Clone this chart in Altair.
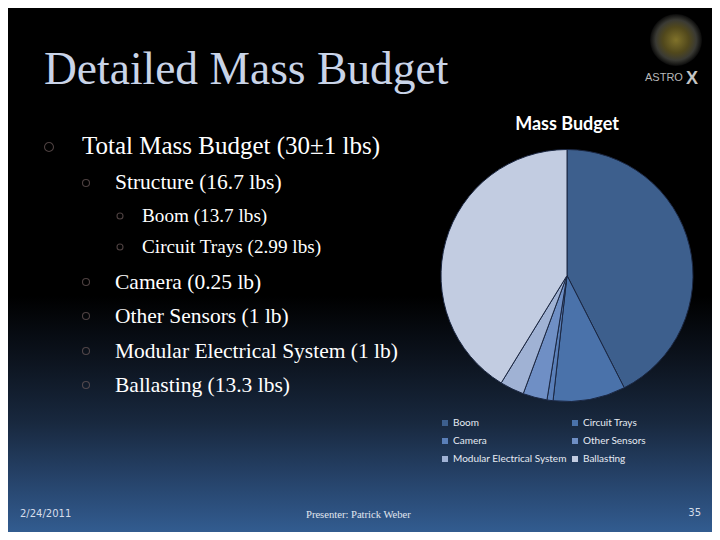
import altair as alt
import pandas as pd

# ---- data ----
parts = ["Boom", "Circuit Trays", "Camera", "Other Sensors", "Modular Electrical System", "Ballasting"]
masses = [13.7, 2.99, 0.25, 1.0, 1.0, 13.3]
units = ["lbs", "lbs", "lb", "lb", "lb", "lbs"]
colors = ["#3D5F8D", "#4A72AA", "#5A7FB8", "#6F8FC5", "#A0B2D4", "#C2CCE1"]

total_budget = "30±1"
structure_mass = 16.7

# ---- layout ----
OX, OY = 8, 8
W, H = 704, 524


def fmt(v):
    return f"{v:g}"


def txt(s, x, y, size, color="#FFFFFF", font="Liberation Serif", weight="normal",
        align="left", baseline="alphabetic"):
    return alt.Chart(alt.Data(values=[{}])).mark_text(
        text=s, fontSize=size, color=color, font=font, fontWeight=weight,
        align=align, baseline=baseline
    ).encode(x=alt.value(x - OX), y=alt.value(y - OY))


def bullet(x, y, d):
    return alt.Chart(alt.Data(values=[{}])).mark_point(
        shape="circle", filled=False, stroke="#6E5C5C", strokeWidth=1.1, size=d * d
    ).encode(x=alt.value(x - OX), y=alt.value(y - OY))


bg = alt.Chart(alt.Data(values=[{}])).mark_rect(
    color=alt.LinearGradient(
        gradient="linear", x1=0, x2=0, y1=0, y2=1,
        stops=[
            alt.GradientStop(color="#000000", offset=0),
            alt.GradientStop(color="#000000", offset=0.55),
            alt.GradientStop(color="#0C131E", offset=0.67),
            alt.GradientStop(color="#18283E", offset=0.79),
            alt.GradientStop(color="#26436A", offset=0.9),
            alt.GradientStop(color="#325C90", offset=1),
        ],
    )
).encode(x=alt.value(0), x2=alt.value(W), y=alt.value(0), y2=alt.value(H))

df = pd.DataFrame({"part": parts, "mass": masses, "idx": list(range(len(parts)))})

pie = alt.Chart(df).mark_arc(
    outerRadius=126, stroke="#1B2742", strokeWidth=1
).encode(
    theta=alt.Theta("mass:Q", stack=True),
    order=alt.Order("idx:Q", sort="ascending"),
    color=alt.Color(
        "part:N",
        scale=alt.Scale(domain=parts, range=colors),
        sort=parts,
        legend=alt.Legend(
            title=None, orient="none", legendX=440 - OX, legendY=418 - OY,
            direction="horizontal", columns=2,
            symbolType="square", symbolSize=36, symbolStrokeWidth=0,
            labelColor="#E6EBF3", labelFont="Lato", labelFontSize=10,
            rowPadding=8, columnPadding=3, labelOffset=3,
        ),
    ),
    x=alt.value(567 - OX),
    y=alt.value(275.5 - OY),
)

layers = [bg, pie]

# logo
logo = alt.Chart(alt.Data(values=[{}])).mark_point(
    shape="circle", filled=True, size=2700, opacity=1,
    color=alt.RadialGradient(
        gradient="radial",
        stops=[
            alt.GradientStop(color="#80722A", offset=0),
            alt.GradientStop(color="#51481C", offset=0.5),
            alt.GradientStop(color="#3A3A34", offset=0.78),
            alt.GradientStop(color="#0A0A0A", offset=1),
        ],
    ),
).encode(x=alt.value(676 - OX), y=alt.value(40 - OY))
layers.append(logo)
layers.append(txt("ASTRO", 645, 81, 11, color="#B9B9B9", font="Liberation Sans"))
layers.append(txt("X", 686, 84, 18, color="#C4C4C4", font="Liberation Sans", weight="bold"))

# slide title
layers.append(txt("Detailed Mass Budget", 44, 84, 45.5, color="#C9D4E8"))

# bullets
L1, L2, L3 = 25, 21.5, 19.2
layers.append(bullet(49, 147, 9))
layers.append(txt(f"Total Mass Budget ({total_budget} lbs)", 82, 154, L1))
layers.append(bullet(86, 183, 7))
layers.append(txt(f"Structure ({fmt(structure_mass)} lbs)", 115, 189, L2))
layers.append(bullet(120, 216, 6))
layers.append(txt(f"{parts[0]} ({fmt(masses[0])} {units[0]})", 142, 222, L3))
layers.append(bullet(120, 247, 6))
layers.append(txt(f"{parts[1]} ({fmt(masses[1])} {units[1]})", 142, 253, L3))
for i, yy in zip(range(2, 6), [282, 316, 351, 385]):
    layers.append(bullet(86, yy, 7))
    layers.append(txt(f"{parts[i]} ({fmt(masses[i])} {units[i]})", 115, yy + 7, L2))

# chart title
layers.append(txt("Mass Budget", 567, 130, 18, color="#FFFFFF", font="Lato", weight="bold", align="center"))

# footer
layers.append(txt("2/24/2011", 20, 517, 10, color="#D6DDEA", font="DejaVu Sans"))
layers.append(txt("Presenter: Patrick Weber", 306, 518, 10.6, color="#E0E6F0", font="Liberation Serif"))
layers.append(txt("35", 701, 516, 10, color="#D6DDEA", font="DejaVu Sans", align="right"))

chart = alt.layer(*layers).properties(
    width=W, height=H,
    autosize=alt.AutoSizeParams(type="fit", contains="padding"),
    padding=0,
    background="#000000",
).configure_view(strokeWidth=0)

chart.save("out.html", embed_options={"renderer": "svg", "actions": False})
